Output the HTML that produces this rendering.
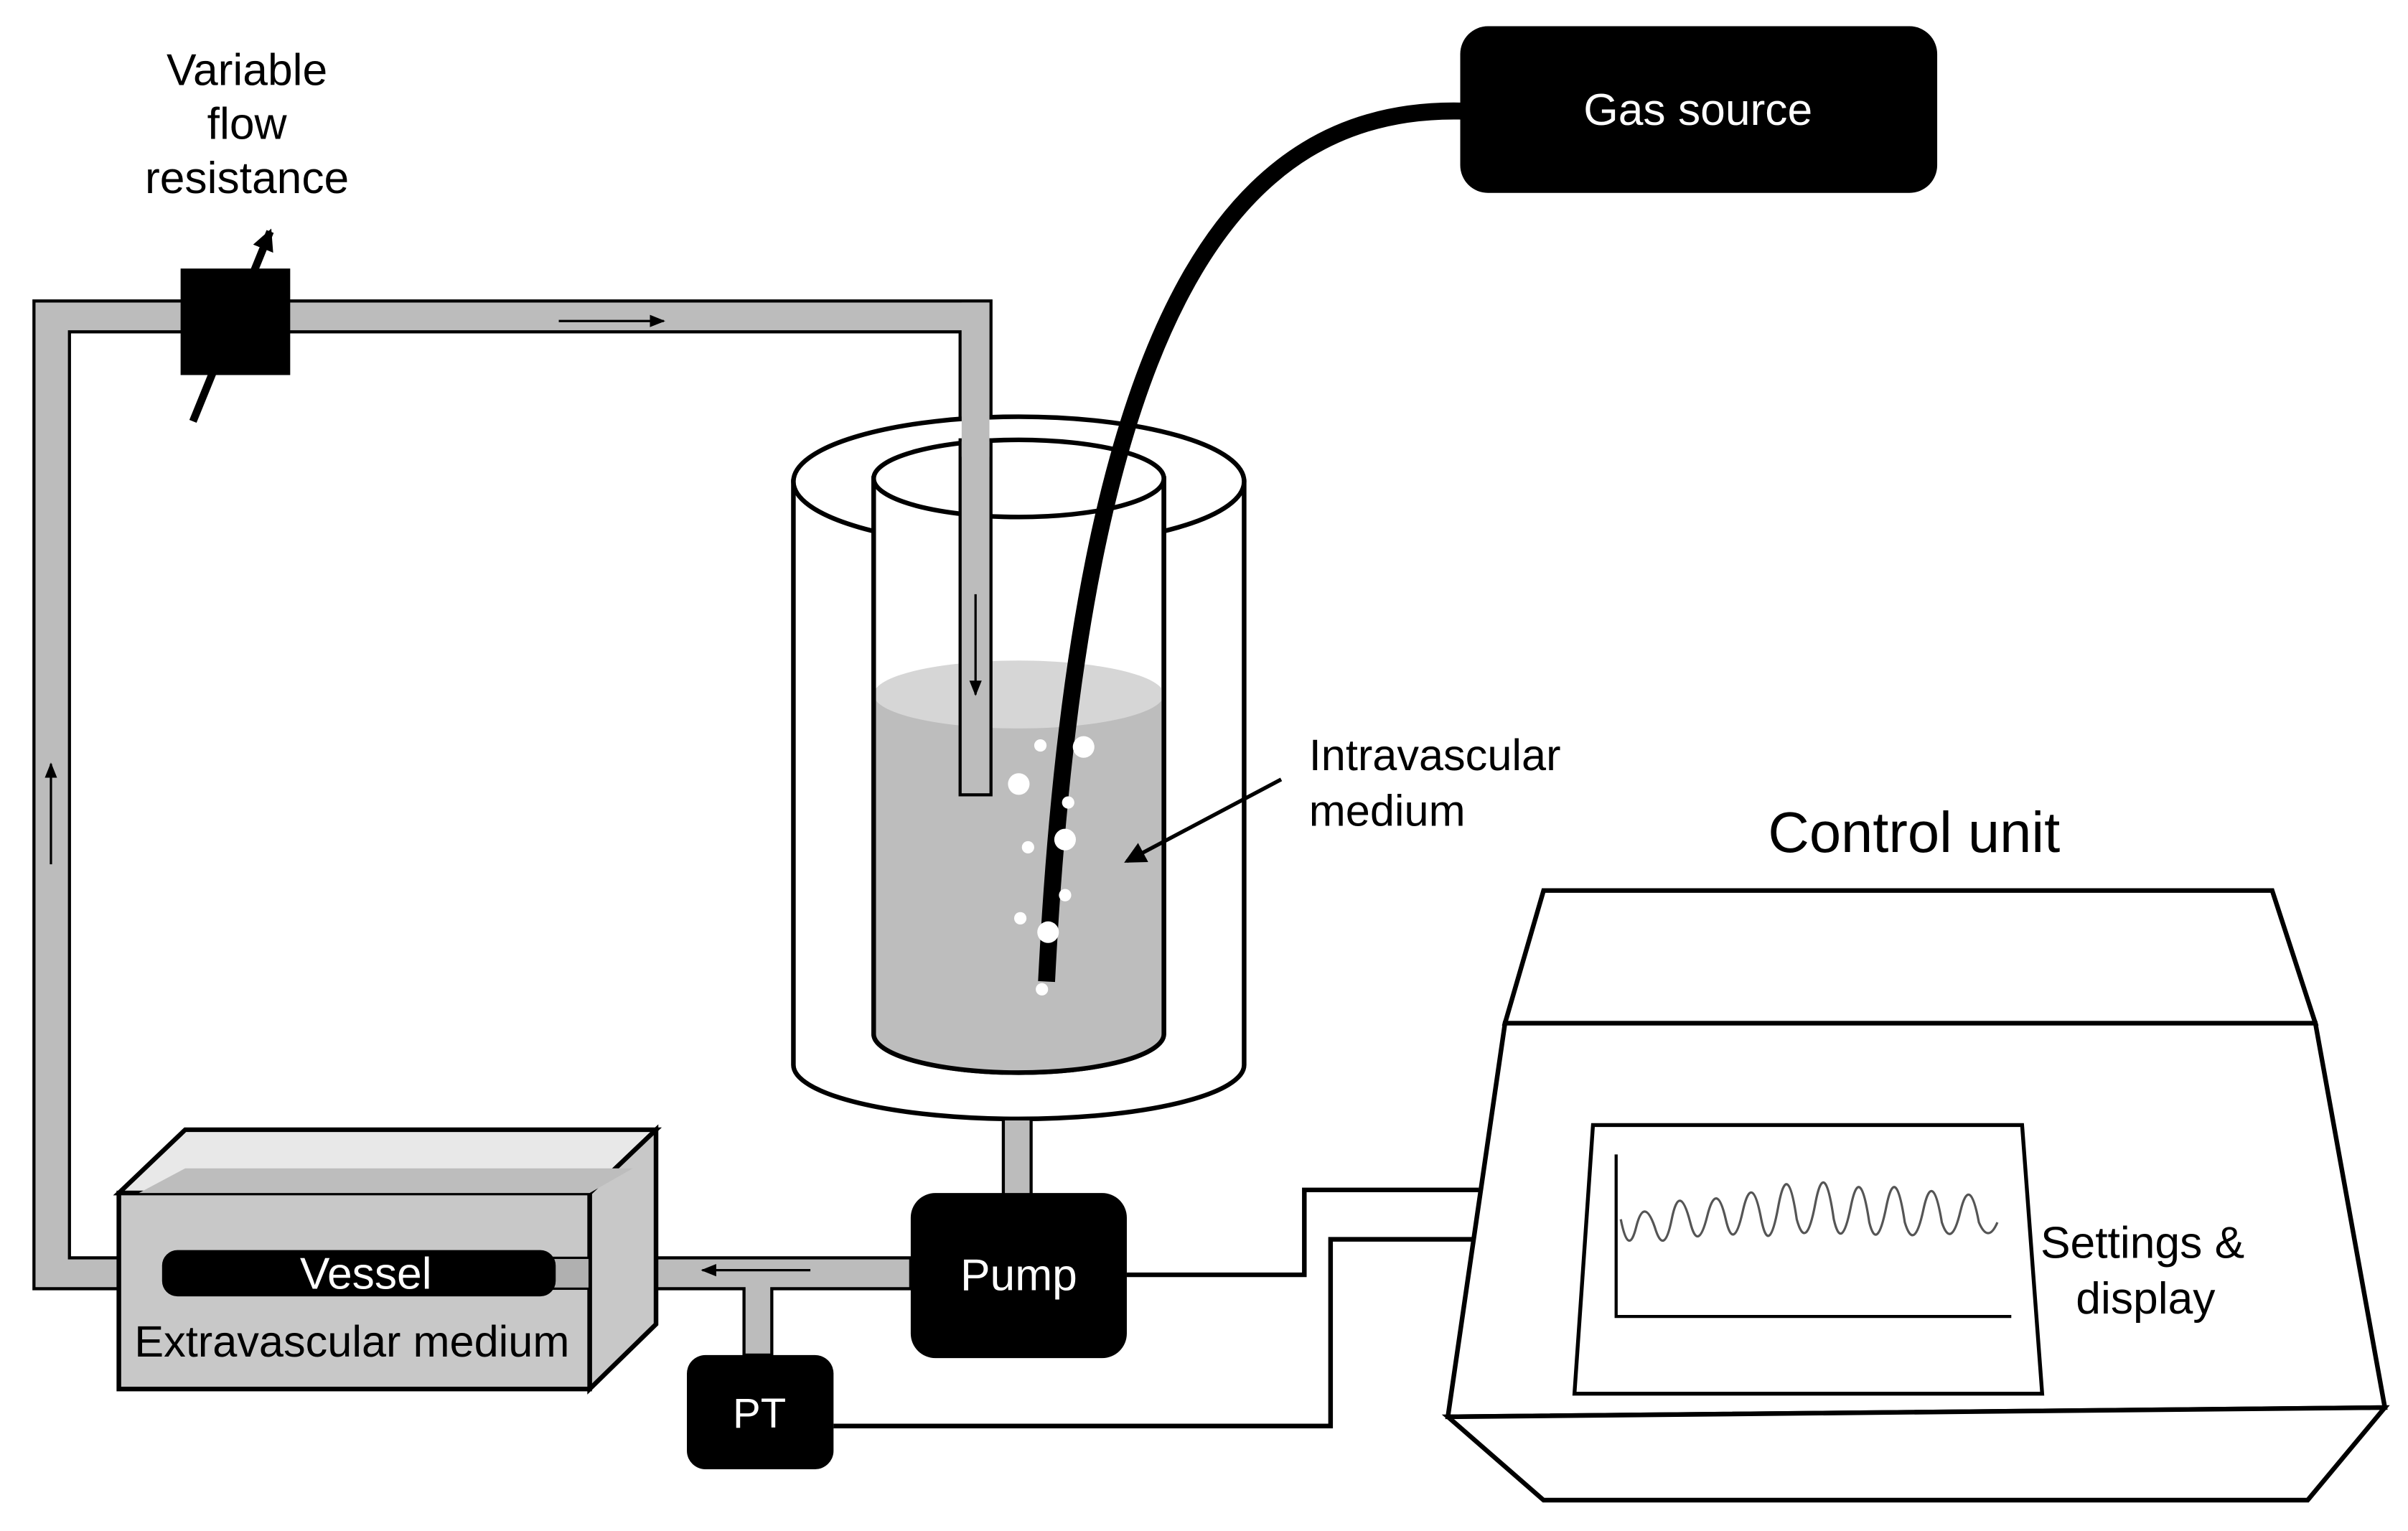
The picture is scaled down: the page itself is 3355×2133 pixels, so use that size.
<!DOCTYPE html>
<html><head><meta charset="utf-8"><style>
html,body{margin:0;padding:0;background:#fff;}
svg{display:block;}
text{font-family:"Liberation Sans",sans-serif;}
</style></head><body>
<svg width="3355" height="2133" viewBox="0 0 1560 992" preserveAspectRatio="none" xmlns="http://www.w3.org/2000/svg">
<defs>
<marker id="ah" markerWidth="10" markerHeight="10" refX="9" refY="5" orient="auto" markerUnits="userSpaceOnUse"><path d="M0,1 L10,5 L0,9 z" fill="#000"/></marker>
<marker id="ah2" markerWidth="16" markerHeight="16" refX="12" refY="8" orient="auto" markerUnits="userSpaceOnUse"><path d="M0,1 L14,8 L0,15 z" fill="#000"/></marker>
</defs>
<rect width="1560" height="992" fill="#fff"/>

<path d="M105,835 L22,835 L22,195 L642,195 L642,515 L622,515 L622,215 L45,215 L45,815 L105,815 Z" fill="#bcbcbc" stroke="#000" stroke-width="2"/>

<path d="M514,312 L514,690 A146,35 0 0 0 806,690 L806,312 Z" fill="#fff" stroke="#000" stroke-width="3"/>
<ellipse cx="660" cy="312" rx="146" ry="42" fill="#fff" stroke="#000" stroke-width="3"/>
<path d="M566,310 L566,670 A94,25 0 0 0 754,670 L754,310 Z" fill="#fff" stroke="#000" stroke-width="3"/>
<path d="M566,450 L566,670 A94,25 0 0 0 754,670 L754,450 Z" fill="#bdbdbd"/>
<ellipse cx="660" cy="450" rx="94" ry="22" fill="#d6d6d6"/>
<path d="M566,310 L566,670 A94,25 0 0 0 754,670 L754,310" fill="none" stroke="#000" stroke-width="3"/>
<ellipse cx="660" cy="310" rx="94" ry="25" fill="#fff" stroke="#000" stroke-width="3"/>
<rect x="622" y="285" width="20" height="230" fill="#bcbcbc" stroke="#000" stroke-width="2"/>
<rect x="623" y="196" width="18" height="100" fill="#bcbcbc"/>
<line x1="632" y1="385" x2="632" y2="450" stroke="#000" stroke-width="1.5" marker-end="url(#ah)"/>

<path d="M948,72 C800,68 700,200 678,636" fill="none" stroke="#000" stroke-width="11"/>
<rect x="946" y="17" width="309" height="108" rx="18" fill="#000"/>
<text x="1100" y="81" font-size="29" fill="#fff" text-anchor="middle">Gas source</text>

<g fill="#fff">
<circle cx="702" cy="484" r="7"/><circle cx="674" cy="483" r="4"/><circle cx="660" cy="508" r="7"/>
<circle cx="692" cy="520" r="4"/><circle cx="690" cy="544" r="7"/><circle cx="666" cy="549" r="4"/>
<circle cx="690" cy="580" r="4"/><circle cx="661" cy="595" r="4"/><circle cx="679" cy="604" r="7"/>
<circle cx="675" cy="641" r="4"/>
</g>

<text x="848" y="499" font-size="28.5">Intravascular</text>
<text x="848" y="535" font-size="28.5">medium</text>
<line x1="830" y1="505" x2="730" y2="558" stroke="#000" stroke-width="2.5" marker-end="url(#ah2)"/>

<text x="160" y="55" font-size="29" text-anchor="middle">Variable</text>
<text x="160" y="90" font-size="29" text-anchor="middle">flow</text>
<text x="160" y="125" font-size="29" text-anchor="middle">resistance</text>
<rect x="117" y="174" width="71" height="69" fill="#000"/>
<line x1="125" y1="273" x2="175" y2="150" stroke="#000" stroke-width="5" marker-end="url(#ah2)"/>

<line x1="362" y1="208" x2="430" y2="208" stroke="#000" stroke-width="1.5" marker-end="url(#ah)"/>
<line x1="33" y1="560" x2="33" y2="495" stroke="#000" stroke-width="1.5" marker-end="url(#ah)"/>

<rect x="650" y="725" width="18" height="50" fill="#bcbcbc" stroke="#000" stroke-width="2"/>
<path d="M360,815 L590,815 L590,835 L500,835 L500,878 L482,878 L482,835 L360,835 Z" fill="#bcbcbc" stroke="#000" stroke-width="2"/>
<line x1="525" y1="823" x2="455" y2="823" stroke="#000" stroke-width="1.5" marker-end="url(#ah)"/>

<rect x="590" y="773" width="140" height="107" rx="16" fill="#000"/>
<text x="660" y="836" font-size="29" fill="#fff" text-anchor="middle">Pump</text>
<rect x="445" y="878" width="95" height="74" rx="12" fill="#000"/>
<text x="492" y="925" font-size="27" fill="#fff" text-anchor="middle">PT</text>

<polygon points="77,773 120,732 425,732 382,773" fill="#e8e8e8" stroke="#000" stroke-width="3"/>
<polygon points="382,773 425,732 425,858 382,900" fill="#c8c8c8" stroke="#000" stroke-width="3"/>
<rect x="77" y="773" width="305" height="127" fill="#c8c8c8" stroke="#000" stroke-width="3"/>
<polygon points="90,773 120,757 410,757 382,773" fill="#bdbdbd"/>
<rect x="355" y="815" width="27" height="20" fill="#b0b0b0" stroke="#000" stroke-width="1.5"/>
<rect x="105" y="810" width="255" height="30" rx="10" fill="#000"/>
<text x="237" y="835" font-size="29" fill="#fff" text-anchor="middle">Vessel</text>
<text x="228" y="879" font-size="28.5" text-anchor="middle">Extravascular medium</text>

<polyline points="730,826 845,826 845,771 958,771" fill="none" stroke="#000" stroke-width="3"/>
<polyline points="540,924 862,924 862,803 956,803" fill="none" stroke="#000" stroke-width="3"/>

<text x="1240" y="552" font-size="37" text-anchor="middle">Control unit</text>
<polygon points="975,663 1000,577 1472,577 1500,663" fill="#fff" stroke="#000" stroke-width="3"/>
<polygon points="975,663 1500,663 1545,912 938,918" fill="#fff" stroke="#000" stroke-width="3"/>
<polygon points="938,918 1545,912 1495,972 1000,972" fill="#fff" stroke="#000" stroke-width="3"/>
<polygon points="1032,729 1310,729 1323,903 1020,903" fill="#fff" stroke="#000" stroke-width="2.5"/>
<polyline points="1047,748 1047,853 1303,853" fill="none" stroke="#000" stroke-width="2"/>
<path d="M1050,790 Q1055,815 1060,795 T1072,795 Q1078,815 1083,790 T1095,792 Q1100,812 1106,788 T1118,790 Q1123,812 1129,785 T1141,790 Q1146,815 1152,782 T1164,790 Q1170,812 1176,780 T1188,790 Q1193,812 1199,782 T1211,792 Q1216,812 1222,782 T1234,792 Q1240,812 1246,784 T1258,792 Q1264,810 1270,785 T1282,792 Q1288,806 1294,792" fill="none" stroke="#555" stroke-width="1.5"/>
<text x="1388" y="815" font-size="29" text-anchor="middle">Settings &amp;</text>
<text x="1390" y="851" font-size="29" text-anchor="middle">display</text>
</svg>
</body></html>
